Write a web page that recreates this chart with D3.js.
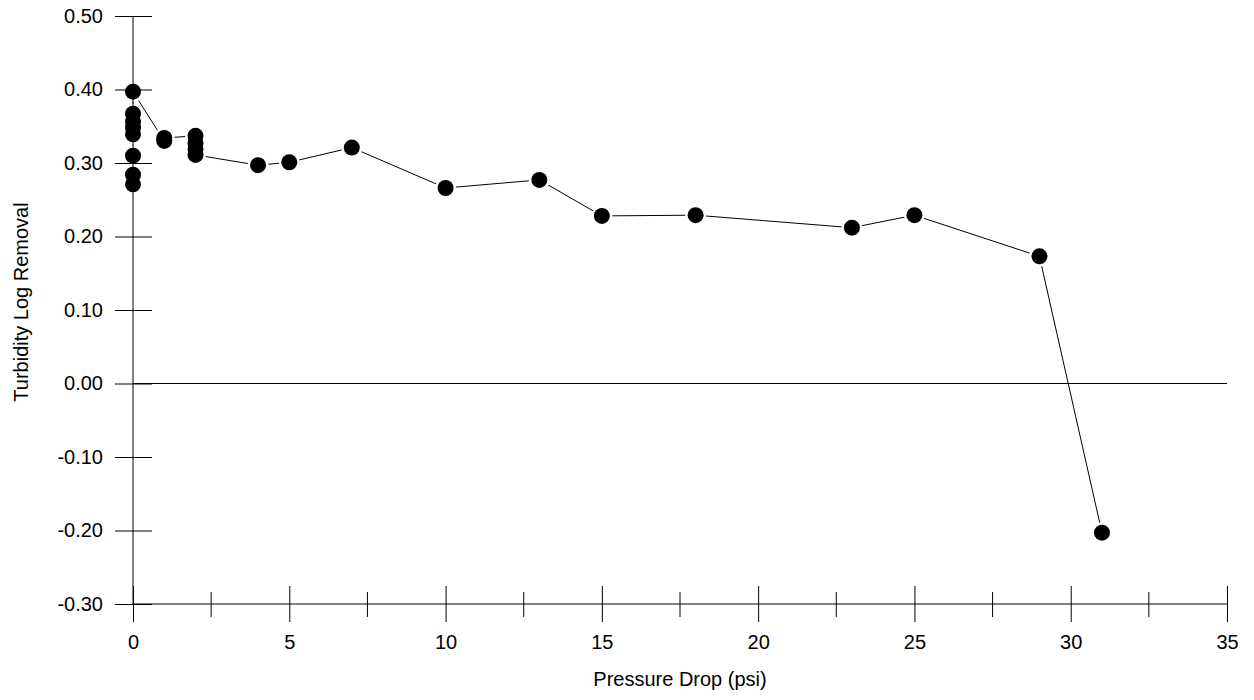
<!DOCTYPE html>
<html>
<head>
<meta charset="utf-8">
<script src="https://cdn.jsdelivr.net/npm/d3@7"></script>
<style>
  html, body { margin: 0; padding: 0; background: #fff; }
  svg { display: block; font-family: "Liberation Sans", Arial, sans-serif; }
</style>
</head>
<body>
<svg id="chart" width="1254" height="700"></svg>
<script>
// ---- data (in plotting order) ----
const pressureDrop = [0, 0, 0, 0, 0, 0, 0, 0, 1, 1, 2, 2, 2, 2, 4, 5, 7, 10, 13, 15, 18, 23, 25, 29, 31];
const logRemoval   = [0.271, 0.284, 0.310, 0.339, 0.348, 0.356, 0.367, 0.397,
                      0.330, 0.334, 0.337, 0.327, 0.319, 0.311,
                      0.297, 0.301, 0.321, 0.266, 0.277, 0.228, 0.229, 0.212, 0.229, 0.173, -0.203];
const xTicks = [0, 5, 10, 15, 20, 25, 30, 35];
const xMinorTicks = [2.5, 7.5, 12.5, 17.5, 22.5, 27.5, 32.5];
const yTicks = [-0.30, -0.20, -0.10, 0.00, 0.10, 0.20, 0.30, 0.40, 0.50];
const xTitle = "Pressure Drop (psi)";
const yTitle = "Turbidity Log Removal";

const svg = d3.select("#chart");
const fontSize = 20;
const fmtY = v => d3.format(".2f")(v).replace("\u2212", "-");

const x = d3.scaleLinear().domain([0, 35]).range([133, 1227]);
const y = d3.scaleLinear().domain([-0.30, 0.50]).range([604, 16]);

const pts = pressureDrop.map((d, i) => ({x: d, y: logRemoval[i]}));

// data line
svg.append("path")
  .datum(pts)
  .attr("fill", "none")
  .attr("stroke", "#000")
  .attr("stroke-width", 1)
  .attr("d", d3.line().x(d => x(d.x)).y(d => y(d.y)));

// white halos around markers (gap between line and markers)
svg.append("g").selectAll("circle").data(pts).join("circle")
  .attr("cx", d => x(d.x)).attr("cy", d => y(d.y))
  .attr("r", 10.5).attr("fill", "#fff");

// zero line
svg.append("line")
  .attr("x1", x(0)).attr("x2", x(35))
  .attr("y1", y(0)).attr("y2", y(0))
  .attr("stroke", "#000").attr("stroke-width", 1);

// y axis
const yAxis = svg.append("g")
  .attr("transform", `translate(${x(0)},0)`)
  .call(d3.axisLeft(y).tickValues(yTicks).tickFormat(fmtY).tickSize(18).tickPadding(12));
yAxis.select(".domain").remove();
yAxis.selectAll(".tick line").attr("x1", 19).attr("stroke", "#000");
yAxis.selectAll(".tick text")
  .attr("font-size", fontSize).attr("font-family", "Liberation Sans, Arial, sans-serif").attr("fill", "#000");
yAxis.append("line")
  .attr("x1", 0).attr("x2", 0).attr("y1", y(0.5)).attr("y2", y(-0.3))
  .attr("stroke", "#000");

// x axis
const xAxis = svg.append("g")
  .attr("transform", `translate(0,${y(-0.30)})`)
  .call(d3.axisBottom(x).tickValues(xTicks).tickFormat(d3.format("d")).tickSize(18).tickPadding(13));
xAxis.select(".domain").remove();
xAxis.selectAll(".tick line").attr("y1", -18).attr("stroke", "#000");
xAxis.selectAll(".tick text")
  .attr("font-size", fontSize).attr("font-family", "Liberation Sans, Arial, sans-serif").attr("fill", "#000");
xAxis.append("line")
  .attr("x1", x(0)).attr("x2", x(35)).attr("y1", 0).attr("y2", 0)
  .attr("stroke", "#000");
xAxis.append("g").selectAll("line").data(xMinorTicks).join("line")
  .attr("x1", d => x(d)).attr("x2", d => x(d))
  .attr("y1", -12).attr("y2", 13)
  .attr("stroke", "#000");

// markers
svg.append("g").selectAll("circle").data(pts).join("circle")
  .attr("cx", d => x(d.x)).attr("cy", d => y(d.y))
  .attr("r", 8).attr("fill", "#000");

// titles
svg.append("text")
  .attr("x", (x(0) + x(35)) / 2).attr("y", 686)
  .attr("text-anchor", "middle").attr("font-size", fontSize).attr("fill", "#000")
  .text(xTitle);
svg.append("text")
  .attr("transform", `translate(28,302) rotate(-90)`)
  .attr("text-anchor", "middle").attr("font-size", fontSize).attr("fill", "#000")
  .text(yTitle);
</script>
</body>
</html>
